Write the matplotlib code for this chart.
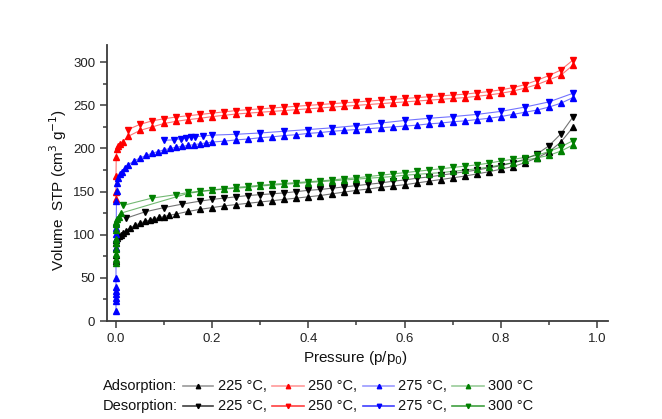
import matplotlib
matplotlib.use("Agg")
import matplotlib.pyplot as plt
from matplotlib.lines import Line2D
from matplotlib.ticker import MultipleLocator

plt.rcParams['font.family'] = ['Liberation Sans', 'DejaVu Sans']

# relative pressure steps used above 0.2
p_grid = [0.225, 0.25, 0.275, 0.3, 0.325, 0.35, 0.375, 0.4, 0.425, 0.45,
          0.475, 0.5, 0.525, 0.55, 0.575, 0.6, 0.625, 0.65, 0.675, 0.7,
          0.725, 0.75, 0.775, 0.8, 0.825, 0.85, 0.875, 0.9, 0.925, 0.95]

# 225 °C
ads_225_p = [0, 0, 0, 0, 0.001, 0.003, 0.006, 0.01, 0.015, 0.02, 0.03, 0.04, 0.05,
             0.06, 0.07, 0.08, 0.09, 0.1, 0.11, 0.125, 0.15, 0.175, 0.2] + p_grid
ads_225_v = [70, 77, 85, 91, 94, 96, 98, 100, 102.5, 104.5, 108, 111, 113.5,
             115.5, 117, 118.5, 120, 121, 122.5, 124, 127, 129.5, 131.5,
             133.5, 135, 136.5, 138, 139.5, 141, 142.5, 144, 145.5, 147.5,
             149.5, 151.5, 153, 155, 156.5, 158, 160, 162, 164, 166,
             168, 170.5, 173, 176, 179, 183.5, 189, 196, 207.5, 224.5]
des_225_p = [0.02, 0.06, 0.1, 0.1375, 0.175, 0.2] + p_grid
des_225_v = [119, 126.5, 131.5, 135.5, 139, 141,
             142.5, 144, 145.5, 146.5, 147.5, 148.5, 150, 151.5, 152.5, 154,
             155.5, 157, 158.5, 160, 162, 163.5, 165.5, 167, 169, 171,
             173, 175, 177.5, 180, 183.5, 187.5, 193.5, 203, 217, 236.5]

# 250 °C
ads_250_p = [0, 0, 0, 0.0005, 0.002, 0.005, 0.009, 0.014,
             0.025, 0.05, 0.075, 0.1, 0.125, 0.15, 0.175, 0.2] + p_grid
ads_250_v = [141, 150, 168, 190, 199, 203, 205, 208,
             214, 221, 225, 229, 231.5, 233.5, 235, 237,
             238.5, 240, 241, 242, 243, 244, 245, 246, 247, 248,
             249, 250, 251, 252, 253, 254, 255, 256, 257, 258,
             259, 260.5, 262, 264, 266.5, 270, 274, 279.5, 285, 296.5]
des_250_p = [0.025, 0.05, 0.075, 0.1, 0.125, 0.15, 0.175, 0.2] + p_grid
des_250_v = [222, 228, 232, 234.5, 236.5, 238, 239.5, 241,
             242.5, 244, 245, 246, 247, 248, 249, 250, 251, 252,
             253, 254, 255, 256, 257, 258, 259, 260, 261, 262,
             263, 264.5, 266, 268, 270.5, 274, 279, 284.5, 291, 302.5]

# 275 °C
ads_275_p = [0, 0, 0, 0, 0, 0, 0, 0, 0, 0, 0,
             0.0005, 0.001, 0.002, 0.003, 0.005, 0.008, 0.012, 0.018,
             0.025, 0.0375, 0.05, 0.0625, 0.075, 0.0875, 0.1, 0.1125,
             0.125, 0.1375, 0.15, 0.1625, 0.175, 0.1875, 0.2] + p_grid
ads_275_v = [12, 23, 27, 31, 35, 39, 50, 85, 95, 101, 108,
             114, 139, 151, 160, 166, 170, 173, 177,
             181, 185.5, 189, 192, 194.5, 196.5, 198.5, 200,
             201.5, 202.5, 203.5, 204.5, 205.5, 206.5, 207.5,
             208.5, 210, 211, 212.5, 213.5, 215, 216, 217.5, 218.5, 220,
             221, 222, 223, 224, 225, 226, 227, 228.5, 229.5, 231,
             232, 233.5, 235, 237, 239.5, 242, 244.5, 248, 252.5, 259]
des_275_p = [0.1, 0.12, 0.135, 0.145, 0.155, 0.165, 0.18, 0.2, 0.25, 0.3, 0.35,
             0.4, 0.45, 0.5, 0.55, 0.6, 0.65, 0.7, 0.75, 0.8, 0.85, 0.9, 0.95]
des_275_v = [209.5, 210, 211.5, 212, 213, 213.5, 214.5, 215.5, 216.5, 218, 220,
             222, 224, 226.5, 229.5, 232.5, 235, 237, 239.5, 243, 248, 254, 264]

# 300 °C
ads_300_p = [0, 0, 0, 0, 0, 0, 0, 0, 0.001, 0.003, 0.006, 0.01,
             0.15, 0.175, 0.2] + p_grid
ads_300_v = [67, 72, 78, 84, 90, 95, 105, 112, 115, 118, 121, 125,
             148, 150, 151.5,
             153, 154, 155, 156.5, 157.5, 158.5, 159.5, 160.5, 161.5, 162.5,
             163.5, 164.5, 165.5, 166.5, 167.5, 169, 170, 171, 172, 173.5,
             175, 176.5, 178.5, 181, 183.5, 186.5, 189, 192, 197, 204]
des_300_p = [0.015, 0.075, 0.125, 0.15, 0.175, 0.2] + p_grid
des_300_v = [134, 142.5, 146.5, 149, 150.5, 152,
             153.5, 155, 156, 157.5, 158.5, 159.5, 160.5, 161.5, 162.5, 163.5,
             165, 166, 167.5, 169, 170.5, 172, 173.5, 175, 176.5, 178,
             179.5, 181, 183, 185.5, 187.5, 189.5, 192, 196.5, 202, 209]

temps = ['225 °C', '250 °C', '275 °C', '300 °C']
colors = ['black', '#ff0000', '#0000ff', '#008000']
ads = [(ads_225_p, ads_225_v), (ads_250_p, ads_250_v),
       (ads_275_p, ads_275_v), (ads_300_p, ads_300_v)]
des = [(des_225_p, des_225_v), (des_250_p, des_250_v),
       (des_275_p, des_275_v), (des_300_p, des_300_v)]

W, H = 662, 419
fig = plt.figure(figsize=(W / 100, H / 100), dpi=100)
fig.patch.set_facecolor('white')


def fx(x):
    return x / W


def fy(y):
    return 1 - y / H


ax = fig.add_axes([fx(107), fy(321), fx(608) - fx(107), fy(45) - fy(321)])

for (pa, va), (pd, vd), c in zip(ads, des, colors):
    ax.plot(pa, va, color=c, lw=0.8, alpha=0.55, zorder=2)
    ax.plot(pa, va, ls='none', marker='^', ms=3.7, color=c, zorder=3)
    ax.plot(pd, vd, color=c, lw=0.8, alpha=0.55, zorder=2)
    ax.plot(pd, vd, ls='none', marker='v', ms=3.7, color=c, zorder=3)

ax.set_xlim(-0.0187, 1.023)
ax.set_ylim(0, 320)
ax.xaxis.set_major_locator(MultipleLocator(0.2))
ax.xaxis.set_minor_locator(MultipleLocator(0.1))
ax.yaxis.set_major_locator(MultipleLocator(50))
ax.yaxis.set_minor_locator(MultipleLocator(25))
ax.xaxis.set_major_formatter(matplotlib.ticker.FormatStrFormatter('%.1f'))

for side in ['top', 'right']:
    ax.spines[side].set_visible(False)
for side in ['left', 'bottom']:
    ax.spines[side].set_color('#3a3a3a')
    ax.spines[side].set_linewidth(1.3)
ax.tick_params(which='major', direction='out', length=5, width=1.1, color='#3a3a3a',
               labelsize=9.5, labelcolor='#222222')
ax.tick_params(which='minor', direction='out', length=3, width=1.1, color='#3a3a3a')

fig.text(fx(356), fy(358), 'Pressure (p/p$_0$)', ha='center', va='center',
         fontsize=11, color='#111111')
fig.text(fx(58), fy(190), 'Volume  STP (cm$^3$ g$^{-1}$)', ha='center', va='center',
         rotation=90, fontsize=11, color='#111111')

# two-row legend drawn in figure coordinates
rows = [('Adsorption:', '^', 386, 0.4), ('Desorption:', 'v', 406, 0.75)]
line_x = [(183, 213), (272, 304), (363, 394), (452, 484)]
text_x = [218, 308, 398, 488]
for title, mk, y, a in rows:
    fig.text(fx(103), fy(y), title, ha='left', va='center', fontsize=10.5,
             color='#111111')
    for i, (c, t) in enumerate(zip(colors, temps)):
        x0, x1 = line_x[i]
        fig.add_artist(Line2D([fx(x0), fx(x1)], [fy(y), fy(y)], color=c,
                              lw=1.2, alpha=a, transform=fig.transFigure))
        fig.add_artist(Line2D([fx((x0 + x1) / 2)], [fy(y)], color=c, marker=mk,
                              ms=3.2, ls='none', transform=fig.transFigure))
        lab = t + ',' if i < 3 else t
        fig.text(fx(text_x[i]), fy(y), lab, ha='left', va='center',
                 fontsize=10.5, color='#111111')

fig.savefig('out.png', dpi=100)
